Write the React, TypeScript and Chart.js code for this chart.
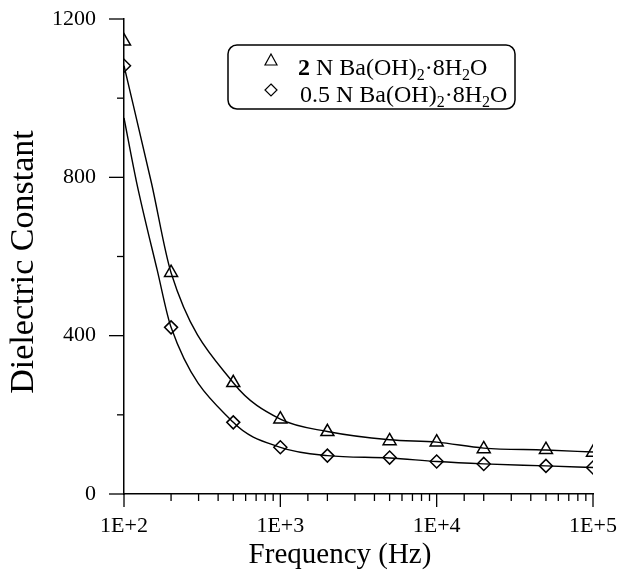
import { useEffect, useRef } from 'react';
import { Chart, registerables } from 'chart.js';

Chart.register(...registerables);

// Measured points
const frequencies = [100, 200, 500, 1000, 2000, 5000, 10000, 20000, 50000, 100000];
const dielectric2N = [1144, 559, 281, 189, 157, 134, 131, 114, 112, 105];
const dielectric05N = [1082, 421, 181, 118, 97, 92, 82, 76, 71, 67];

// Fitted curves
const fitFreq2N = [100, 150, 200, 500, 1000, 2000, 5000, 10000, 20000, 50000, 100000];
const fit2N = [1082, 785, 559, 281, 189, 158, 137, 131, 116, 111, 106];
const fitFreq05N = [100, 120, 163, 200, 500, 1000, 2000, 5000, 10000, 20000, 50000, 100000];
const fit05N = [950, 790, 566, 421, 181, 118, 97, 91, 82, 76, 71, 67];

const legendLabels = ['2 N Ba(OH)₂·8H₂O', '0.5 N Ba(OH)₂·8H₂O'];
const xTitle = 'Frequency (Hz)';
const yTitle = 'Dielectric Constant';

const SERIF = "'Liberation Serif', 'Times New Roman', serif";

const toXY = (xs: number[], ys: number[]) => xs.map((x, i) => ({ x, y: ys[i] }));

const ticksPlugin = {
  id: 'customTicks',
  afterDraw(chart: any) {
    const { ctx, chartArea } = chart;
    const xs = chart.scales.x;
    const ys = chart.scales.y;
    ctx.save();
    ctx.strokeStyle = '#000';
    ctx.lineWidth = 1.3;
    ys.ticks.forEach((t: any) => {
      const py = ys.getPixelForValue(t.value);
      const len = t.label !== '' ? 15 : 7;
      ctx.beginPath();
      ctx.moveTo(chartArea.left - len, py);
      ctx.lineTo(chartArea.left, py);
      ctx.stroke();
    });
    xs.ticks.forEach((t: any) => {
      const px = xs.getPixelForValue(t.value);
      const len = t.label !== '' ? 13 : 7;
      ctx.beginPath();
      ctx.moveTo(px, chartArea.bottom);
      ctx.lineTo(px, chartArea.bottom + len);
      ctx.stroke();
    });
    // axis titles
    ctx.fillStyle = '#000';
    ctx.font = `29px ${SERIF}`;
    ctx.textAlign = 'center';
    ctx.textBaseline = 'alphabetic';
    ctx.fillText(xTitle, 340, 563);
    ctx.save();
    ctx.translate(24, 262);
    ctx.rotate(-Math.PI / 2);
    ctx.font = `34px ${SERIF}`;
    ctx.textBaseline = 'middle';
    ctx.fillText(yTitle, 0, 0);
    ctx.restore();
    ctx.restore();
  },
};

function drawParts(ctx: CanvasRenderingContext2D, parts: { t: string; sub?: boolean; bold?: boolean }[], x: number, y: number, size: number) {
  let cx = x;
  parts.forEach((p) => {
    const s = p.sub ? Math.round(size * 0.65) : size;
    ctx.font = `${p.bold ? 'bold ' : ''}${s}px ${SERIF}`;
    ctx.fillText(p.t, cx, p.sub ? y + size * 0.2 : y);
    cx += ctx.measureText(p.t).width;
  });
}

function splitFormula(label: string, boldFirst: boolean) {
  const parts: { t: string; sub?: boolean; bold?: boolean }[] = [];
  let buf = '';
  for (const ch of label) {
    if (ch === '₂') {
      if (buf) parts.push({ t: buf });
      buf = '';
      parts.push({ t: '2', sub: true });
    } else buf += ch;
  }
  if (buf) parts.push({ t: buf });
  if (boldFirst && parts.length) {
    const first = parts[0].t;
    parts.splice(0, 1, { t: first.charAt(0), bold: true }, { t: first.slice(1) });
  }
  return parts;
}

const legendPlugin = {
  id: 'boxLegend',
  afterDraw(chart: any) {
    const { ctx } = chart;
    ctx.save();
    ctx.strokeStyle = '#000';
    ctx.lineWidth = 1.5;
    ctx.beginPath();
    (ctx as any).roundRect(228, 45, 287, 64, 9);
    ctx.stroke();
    // symbols
    ctx.lineWidth = 1.2;
    ctx.beginPath();
    ctx.moveTo(271, 54);
    ctx.lineTo(277, 65);
    ctx.lineTo(265, 65);
    ctx.closePath();
    ctx.stroke();
    ctx.beginPath();
    ctx.moveTo(271, 84);
    ctx.lineTo(277, 90);
    ctx.lineTo(271, 96);
    ctx.lineTo(265, 90);
    ctx.closePath();
    ctx.stroke();
    ctx.fillStyle = '#000';
    ctx.textBaseline = 'alphabetic';
    drawParts(ctx, splitFormula(legendLabels[0], true), 298, 75, 24);
    drawParts(ctx, splitFormula(legendLabels[1], false), 300, 102, 24);
    ctx.restore();
  },
};

export default function App() {
  const ref = useRef<HTMLCanvasElement | null>(null);
  useEffect(() => {
    if (!ref.current) return;
    const chart = new Chart(ref.current, {
      type: 'line',
      data: {
        datasets: [
          {
            label: 'fit2N',
            data: toXY(fitFreq2N, fit2N),
            borderColor: '#000',
            borderWidth: 1.4,
            pointRadius: 0,
            cubicInterpolationMode: 'monotone',
            fill: false,
          },
          {
            label: 'fit05N',
            data: toXY(fitFreq05N, fit05N),
            borderColor: '#000',
            borderWidth: 1.4,
            pointRadius: 0,
            cubicInterpolationMode: 'monotone',
            fill: false,
          },
          {
            label: legendLabels[0],
            data: toXY(frequencies, dielectric2N),
            showLine: false,
            pointStyle: 'triangle',
            pointRadius: 7.5,
            pointBorderWidth: 1.5,
            pointBorderColor: '#000',
            pointBackgroundColor: 'rgba(0,0,0,0)',
          },
          {
            label: legendLabels[1],
            data: toXY(frequencies, dielectric05N),
            showLine: false,
            pointStyle: 'rectRot',
            pointRadius: 6.5,
            pointBorderWidth: 1.5,
            pointBorderColor: '#000',
            pointBackgroundColor: 'rgba(0,0,0,0)',
          },
        ],
      },
      options: {
        animation: false,
        responsive: false,
        devicePixelRatio: 1,
        layout: { padding: { top: 19, right: 26, left: 0, bottom: 0 } },
        plugins: { legend: { display: false }, tooltip: { enabled: false } },
        scales: {
          x: {
            type: 'logarithmic',
            min: 100,
            max: 100000,
            grid: { display: false, drawTicks: false },
            border: { display: true, color: '#000', width: 1.5 },
            ticks: {
              autoSkip: false,
              maxRotation: 0,
              padding: 19,
              color: '#000',
              font: { family: SERIF, size: 22 },
              callback: (v: any) => {
                const e = Math.log10(Number(v));
                return Math.abs(e - Math.round(e)) < 1e-9 ? `1E+${Math.round(e)}` : '';
              },
            },
            title: { display: false },
            afterFit: (s: any) => {
              s.height = 78;
              s.paddingLeft = 0;
              s.paddingRight = 0;
            },
          },
          y: {
            min: 0,
            max: 1200,
            grid: { display: false, drawTicks: false },
            border: { display: true, color: '#000', width: 1.5 },
            ticks: {
              stepSize: 200,
              padding: 28,
              color: '#000',
              font: { family: SERIF, size: 22 },
              callback: (v: any) => (Number(v) % 400 === 0 ? String(v) : ''),
            },
            title: { display: false },
            afterFit: (s: any) => {
              s.width = 124;
              s.paddingTop = 0;
              s.paddingBottom = 0;
            },
          },
        },
      },
      plugins: [ticksPlugin, legendPlugin],
    } as any);
    return () => chart.destroy();
  }, []);
  return (
    <div style={{ position: 'fixed', left: 0, top: 0, width: 619, height: 572, background: '#fff' }}>
      <canvas ref={ref} width={619} height={572} style={{ width: 619, height: 572, display: 'block' }} />
    </div>
  );
}
